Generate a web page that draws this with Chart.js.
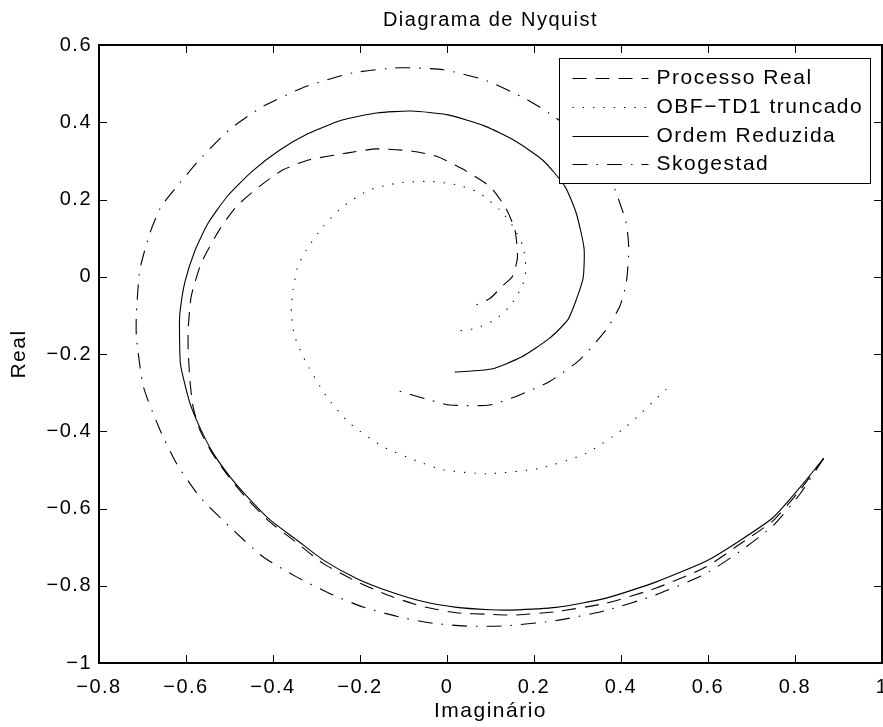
<!DOCTYPE html>
<html><head><meta charset="utf-8">
<script src="https://cdn.jsdelivr.net/npm/chart.js@4/dist/chart.umd.min.js"></script>
<style>html,body{margin:0;padding:0;background:#fff;}canvas{display:block}</style>
</head><body>
<canvas id="c" width="883" height="727"></canvas>
<script>
const titleText = 'Diagrama de Nyquist';
const xAxisLabel = 'Imaginário';
const yAxisLabel = 'Real';
const xTicks = [-0.8, -0.6, -0.4, -0.2, 0, 0.2, 0.4, 0.6, 0.8, 1];
const yTicks = [-1, -0.8, -0.6, -0.4, -0.2, 0, 0.2, 0.4, 0.6];
const seriesNames = ['Processo Real', 'OBF\u2212TD1 truncado', 'Ordem Reduzida', 'Skogestad'];

// Processo Real (dashed)
const realX = [0.866, 0.811, 0.749, 0.672, 0.596, 0.481, 0.366, 0.251, 0.152, 0.098, 0.022, -0.055, -0.132, -0.208, -0.285, -0.346, -0.408, -0.461, -0.500, -0.538, -0.569, -0.584, -0.591, -0.595, -0.595, -0.588, -0.565, -0.523, -0.484, -0.431, -0.377, -0.316, -0.231, -0.162, -0.086, -0.024, 0.034, 0.098, 0.133, 0.156, 0.162, 0.150, 0.130, 0.100, 0.068];
const realY = [-0.470, -0.553, -0.632, -0.693, -0.751, -0.806, -0.845, -0.867, -0.876, -0.874, -0.870, -0.854, -0.826, -0.789, -0.742, -0.688, -0.634, -0.573, -0.520, -0.460, -0.394, -0.335, -0.267, -0.189, -0.137, -0.051, 0.035, 0.122, 0.182, 0.234, 0.277, 0.303, 0.320, 0.331, 0.326, 0.312, 0.280, 0.234, 0.182, 0.122, 0.050, 0.000, -0.021, -0.055, -0.073];

// OBF-TD1 truncado (dotted)
const obfX = [0.504, 0.412, 0.320, 0.213, 0.091, -0.009, -0.055, -0.147, -0.224, -0.277, -0.323, -0.350, -0.358, -0.354, -0.343, -0.323, -0.285, -0.239, -0.178, -0.109, -0.040, 0.022, 0.071, 0.121, 0.152, 0.175, 0.181, 0.179, 0.171, 0.144, 0.110, 0.068, 0.014];
const obfY = [-0.291, -0.388, -0.457, -0.496, -0.510, -0.500, -0.483, -0.440, -0.379, -0.310, -0.224, -0.155, -0.094, -0.034, 0.027, 0.070, 0.130, 0.182, 0.225, 0.243, 0.247, 0.238, 0.219, 0.174, 0.130, 0.078, 0.027, -0.003, -0.029, -0.077, -0.111, -0.133, -0.142];

// Ordem Reduzida (solid)
const redX = [0.866, 0.811, 0.749, 0.672, 0.596, 0.481, 0.366, 0.251, 0.144, 0.098, 0.022, -0.055, -0.132, -0.208, -0.285, -0.346, -0.408, -0.461, -0.500, -0.538, -0.569, -0.591, -0.607, -0.613, -0.615, -0.614, -0.603, -0.580, -0.549, -0.503, -0.448, -0.386, -0.320, -0.243, -0.162, -0.082, 0.002, 0.087, 0.156, 0.221, 0.271, 0.297, 0.315, 0.313, 0.297, 0.278, 0.236, 0.171, 0.102, 0.018];
const redY = [-0.470, -0.546, -0.624, -0.684, -0.736, -0.790, -0.832, -0.856, -0.863, -0.862, -0.856, -0.841, -0.815, -0.781, -0.733, -0.681, -0.628, -0.567, -0.516, -0.456, -0.388, -0.327, -0.258, -0.224, -0.137, -0.094, -0.016, 0.066, 0.139, 0.211, 0.273, 0.327, 0.370, 0.405, 0.424, 0.429, 0.419, 0.390, 0.352, 0.301, 0.234, 0.165, 0.074, -0.003, -0.060, -0.111, -0.159, -0.208, -0.239, -0.247];

// Skogestad (dash-dot)
const skoX = [0.866, 0.811, 0.749, 0.672, 0.596, 0.481, 0.366, 0.251, 0.144, 0.098, 0.036, -0.040, -0.116, -0.193, -0.270, -0.346, -0.423, -0.500, -0.569, -0.622, -0.660, -0.698, -0.714, -0.714, -0.706, -0.683, -0.657, -0.614, -0.569, -0.500, -0.423, -0.323, -0.216, -0.109, -0.009, 0.090, 0.183, 0.251, 0.320, 0.365, 0.389, 0.412, 0.418, 0.412, 0.397, 0.366, 0.305, 0.236, 0.167, 0.098, 0.006, -0.040, -0.120];
const skoY = [-0.470, -0.563, -0.645, -0.712, -0.768, -0.823, -0.864, -0.890, -0.903, -0.905, -0.904, -0.896, -0.879, -0.855, -0.820, -0.777, -0.725, -0.647, -0.569, -0.483, -0.396, -0.284, -0.155, -0.094, 0.018, 0.113, 0.182, 0.243, 0.303, 0.381, 0.441, 0.493, 0.528, 0.541, 0.536, 0.508, 0.459, 0.411, 0.345, 0.280, 0.217, 0.139, 0.070, -0.016, -0.077, -0.137, -0.215, -0.271, -0.306, -0.332, -0.332, -0.319, -0.293];

const FONT = '"Liberation Sans", Arial, Helvetica, sans-serif';
Chart.defaults.font.family = FONT;
Chart.defaults.color = '#000';

const toPts = (xs, ys) => xs.map((x, i) => ({x: x, y: ys[i]}));
const styles = [
  {dash: [14, 9]},
  {dash: [1.3, 9]},
  {dash: []},
  {dash: [15, 9, 1.5, 9]}
];
const series = [[realX, realY], [obfX, obfY], [redX, redY], [skoX, skoY]];

const fmt = v => {
  const s = (Math.round(v * 10) / 10).toString();
  return s.replace('-', '\u2212');
};

const framePlugin = {
  id: 'frame',
  beforeDraw(chart) { chart.ctx.letterSpacing = '1.5px'; },
  afterDatasetsDraw(chart) {
    const {ctx, chartArea: a, scales: {x, y}} = chart;
    const L = 8;
    ctx.save();
    ctx.strokeStyle = '#000';
    ctx.lineWidth = 1;
    ctx.setLineDash([]);
    ctx.beginPath();
    x.ticks.forEach(t => {
      const px = Math.round(x.getPixelForValue(t.value)) + 0.5;
      ctx.moveTo(px, a.bottom); ctx.lineTo(px, a.bottom - L);
      ctx.moveTo(px, a.top); ctx.lineTo(px, a.top + L);
    });
    y.ticks.forEach(t => {
      const py = Math.round(y.getPixelForValue(t.value)) + 0.5;
      ctx.moveTo(a.left, py); ctx.lineTo(a.left + L, py);
      ctx.moveTo(a.right, py); ctx.lineTo(a.right - L, py);
    });
    ctx.stroke();
    ctx.lineWidth = 2;
    ctx.strokeRect(a.left, a.top, a.right - a.left, a.bottom - a.top);
    ctx.restore();
  }
};

const legendPlugin = {
  id: 'boxLegend',
  afterDraw(chart) {
    const {ctx, chartArea: a} = chart;
    const bw = 311, bh = 125;
    const bx = a.right - 11.5 - bw, by = a.top + 13.5;
    ctx.save();
    ctx.letterSpacing = '1.5px';
    ctx.fillStyle = '#fff';
    ctx.fillRect(bx, by, bw, bh);
    ctx.strokeStyle = '#000';
    ctx.lineWidth = 1;
    ctx.setLineDash([]);
    ctx.strokeRect(bx, by, bw, bh);
    ctx.font = '21px ' + FONT;
    ctx.textBaseline = 'middle';
    ctx.textAlign = 'left';
    chart.data.datasets.forEach((ds, i) => {
      const ry = Math.round(by + 19.5 + i * 28.8) + 0.5;
      ctx.beginPath();
      ctx.setLineDash(ds.borderDash || []);
      ctx.lineWidth = ds.borderWidth;
      ctx.strokeStyle = ds.borderColor;
      ctx.moveTo(bx + 13, ry);
      ctx.lineTo(bx + 89, ry);
      ctx.stroke();
      ctx.setLineDash([]);
      ctx.fillStyle = '#000';
      ctx.fillText(ds.label, bx + 97, ry);
    });
    ctx.restore();
  }
};

new Chart(document.getElementById('c'), {
  type: 'scatter',
  data: {
    datasets: series.map((s, i) => ({
      label: seriesNames[i],
      data: toPts(s[0], s[1]),
      showLine: true,
      pointRadius: 0,
      borderColor: '#000',
      borderWidth: 1.1,
      borderDash: styles[i].dash,
      fill: false,
      tension: 0.2
    }))
  },
  options: {
    responsive: false,
    animation: false,
    devicePixelRatio: 1,
    layout: {padding: {left: 0, right: 1, top: 0, bottom: 0}, autoPadding: false},
    plugins: {
      legend: {display: false},
      tooltip: {enabled: false},
      title: {
        display: true, text: titleText, fullSize: false, color: '#000',
        font: {size: 20, weight: 'normal', family: FONT},
        padding: {top: 8, bottom: 13}
      }
    },
    scales: {
      x: {
        type: 'linear', min: -0.8, max: 1,
        afterBuildTicks: s => { s.ticks = xTicks.map(v => ({value: v})); },
        afterFit: s => { s.height = 64; s.paddingLeft = 0; s.paddingRight = 0; },
        grid: {display: false, drawTicks: false},
        border: {display: false},
        ticks: {color: '#000', font: {size: 20, family: FONT}, padding: 12, maxRotation: 0, autoSkip: false, callback: fmt},
        title: {display: true, text: xAxisLabel, color: '#000', font: {size: 21, family: FONT}, padding: {top: 0, bottom: 3}}
      },
      y: {
        type: 'linear', min: -1, max: 0.6,
        afterBuildTicks: s => { s.ticks = yTicks.map(v => ({value: v})); },
        afterFit: s => { s.width = 99; s.paddingTop = 0; s.paddingBottom = 0; },
        grid: {display: false, drawTicks: false},
        border: {display: false},
        ticks: {color: '#000', font: {size: 20, family: FONT}, padding: 7, autoSkip: false, callback: fmt},
        title: {display: true, text: yAxisLabel, color: '#000', font: {size: 21, family: FONT}, padding: {top: 7, bottom: 0}}
      }
    }
  },
  plugins: [framePlugin, legendPlugin]
});
</script>
</body></html>
